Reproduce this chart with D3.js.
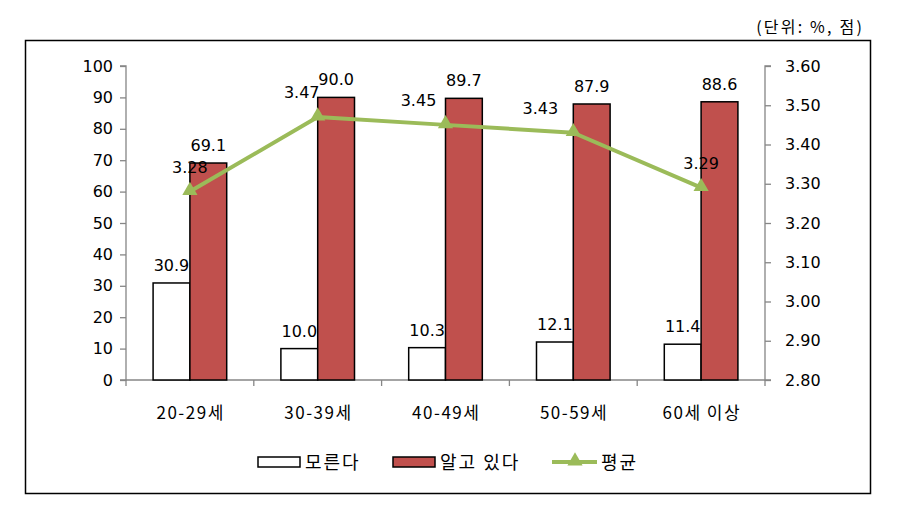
<!DOCTYPE html>
<html><head><meta charset="utf-8">
<script src="https://cdn.jsdelivr.net/npm/d3@7"></script>
<style>body{margin:0;background:#fff}svg{display:block}</style>
</head><body>
<svg id="c" width="912" height="515"></svg>
<script>
const categories = ["20-29세", "30-39세", "40-49세", "50-59세", "60세 이상"];
const dontKnow = [30.9, 10.0, 10.3, 12.1, 11.4];
const know = [69.1, 90.0, 89.7, 87.9, 88.6];
const average = [3.28, 3.47, 3.45, 3.43, 3.29];
const leftTicks = [0, 10, 20, 30, 40, 50, 60, 70, 80, 90, 100];
const rightTicks = [2.8, 2.9, 3.0, 3.1, 3.2, 3.3, 3.4, 3.5, 3.6];
const seriesNames = ["모른다", "알고 있다", "평균"];
const unitText = "(단위: %, 점)";

// label layout offsets for line labels (px)
const avgLabelDx = [0, -16, -27, -33, 0];

const svg = d3.select("#c");
const numFont = "'DejaVu Sans', Verdana, sans-serif";
const korFont = "'Noto Sans CJK KR', 'Noto Sans', sans-serif";
const red = "#C0504D", green = "#9BBB59", axisCol = "#868686";

// frame
svg.append("rect").attr("x", 25.5).attr("y", 40.5).attr("width", 845).attr("height", 453)
  .attr("fill", "none").attr("stroke", "#000").attr("stroke-width", 1.5);
svg.append("text").attr("x", 864).attr("y", 33).attr("text-anchor", "end")
  .attr("font-family", korFont).attr("font-size", 16).attr("letter-spacing", 2.2)
  .attr("fill", "#000").text(unitText);

const x0 = 126, x1 = 765, yTop = 66, yBot = 380;
const x = d3.scaleBand().domain(categories).range([x0, x1]).padding(0);
const yL = d3.scaleLinear().domain([0, 100]).range([yBot, yTop]);
const yR = d3.scaleLinear().domain([2.8, 3.6]).range([yBot, yTop]);
const barW = x.bandwidth() * 0.288;
const cx = d => x(d) + x.bandwidth() / 2;

// axes
const gl = svg.append("g").attr("transform", `translate(${x0},0)`)
  .call(d3.axisLeft(yL).tickValues(leftTicks).tickSize(6).tickPadding(7).tickFormat(d3.format("d")));
const gr = svg.append("g").attr("transform", `translate(${x1},0)`)
  .call(d3.axisRight(yR).tickValues(rightTicks).tickSize(6).tickPadding(14).tickFormat(d3.format(".2f")));
[gl, gr].forEach(g => {
  g.select(".domain").attr("stroke", axisCol).attr("stroke-width", 1.3).attr("d", g === gl ? `M-6,${yTop}H0V${yBot}H-6` : `M6,${yTop}H0V${yBot}H6`);
  g.selectAll(".tick line").attr("stroke", axisCol).attr("stroke-width", 1.3);
  g.selectAll("text").attr("font-family", numFont).attr("font-size", 16).attr("fill", "#000");
});
// bottom axis
const gb = svg.append("g").attr("transform", `translate(0,${yBot})`);
gb.append("line").attr("x1", x0).attr("x2", x1).attr("stroke", axisCol).attr("stroke-width", 1.3);
const bounds = categories.map(c => x(c)).concat([x1]);
gb.selectAll("line.t").data(bounds).join("line").attr("class", "t")
  .attr("x1", d => d).attr("x2", d => d).attr("y1", 0).attr("y2", 6)
  .attr("stroke", axisCol).attr("stroke-width", 1.3);
gb.selectAll("text").data(categories).join("text")
  .attr("x", d => cx(d) + 0.75).attr("y", 39).attr("text-anchor", "middle")
  .attr("font-family", korFont).attr("font-size", 17).attr("letter-spacing", 1.5)
  .attr("fill", "#000").text(d => d);

// bars
svg.selectAll("rect.w").data(dontKnow).join("rect").attr("class", "w")
  .attr("x", (d, i) => cx(categories[i]) - barW).attr("width", barW)
  .attr("y", d => yL(d)).attr("height", d => yBot - yL(d))
  .attr("fill", "#fff").attr("stroke", "#000").attr("stroke-width", 1.5);
svg.selectAll("rect.r").data(know).join("rect").attr("class", "r")
  .attr("x", (d, i) => cx(categories[i])).attr("width", barW)
  .attr("y", d => yL(d)).attr("height", d => yBot - yL(d))
  .attr("fill", red).attr("stroke", "#000").attr("stroke-width", 1.5);

// bar labels
svg.selectAll("text.wl").data(dontKnow).join("text").attr("class", "wl")
  .attr("x", (d, i) => cx(categories[i]) - barW / 2).attr("y", d => yL(d) - 12)
  .attr("text-anchor", "middle").attr("font-family", numFont).attr("font-size", 16)
  .attr("fill", "#000").text(d => d.toFixed(1));
svg.selectAll("text.rl").data(know).join("text").attr("class", "rl")
  .attr("x", (d, i) => cx(categories[i]) + barW / 2).attr("y", d => yL(d) - 12)
  .attr("text-anchor", "middle").attr("font-family", numFont).attr("font-size", 16)
  .attr("fill", "#000").text(d => d.toFixed(1));

// line
const line = d3.line().x((d, i) => cx(categories[i])).y(d => yR(d));
svg.append("path").datum(average).attr("d", line).attr("fill", "none")
  .attr("stroke", green).attr("stroke-width", 4).attr("stroke-linejoin", "round");
const tri = d3.symbol().type(d3.symbolTriangle).size(100);
svg.selectAll("path.m").data(average).join("path").attr("class", "m")
  .attr("d", tri).attr("transform", (d, i) => `translate(${cx(categories[i])},${yR(d) - 1})`)
  .attr("fill", green);
svg.selectAll("text.al").data(average).join("text").attr("class", "al")
  .attr("x", (d, i) => cx(categories[i]) + avgLabelDx[i]).attr("y", d => yR(d) - 19)
  .attr("text-anchor", "middle").attr("font-family", numFont).attr("font-size", 16)
  .attr("fill", "#000").text(d => d.toFixed(2));

// legend
const ly = 462;
const lg = svg.append("g").attr("font-family", korFont).attr("font-size", 18).attr("letter-spacing", 2);
lg.append("rect").attr("x", 258).attr("y", ly - 5).attr("width", 42).attr("height", 10)
  .attr("fill", "#fff").attr("stroke", "#000").attr("stroke-width", 1.5);
lg.append("text").attr("x", 305).attr("y", ly + 7).text(seriesNames[0]);
lg.append("rect").attr("x", 393).attr("y", ly - 5).attr("width", 42).attr("height", 10)
  .attr("fill", red).attr("stroke", "#000").attr("stroke-width", 1.5);
lg.append("text").attr("x", 440).attr("y", ly + 7).text(seriesNames[1]);
lg.append("line").attr("x1", 552).attr("x2", 597).attr("y1", ly).attr("y2", ly)
  .attr("stroke", green).attr("stroke-width", 4);
lg.append("path").attr("d", tri).attr("transform", `translate(575,${ly - 1})`).attr("fill", green);
lg.append("text").attr("x", 601).attr("y", ly + 7).text(seriesNames[2]);
</script>
</body></html>
